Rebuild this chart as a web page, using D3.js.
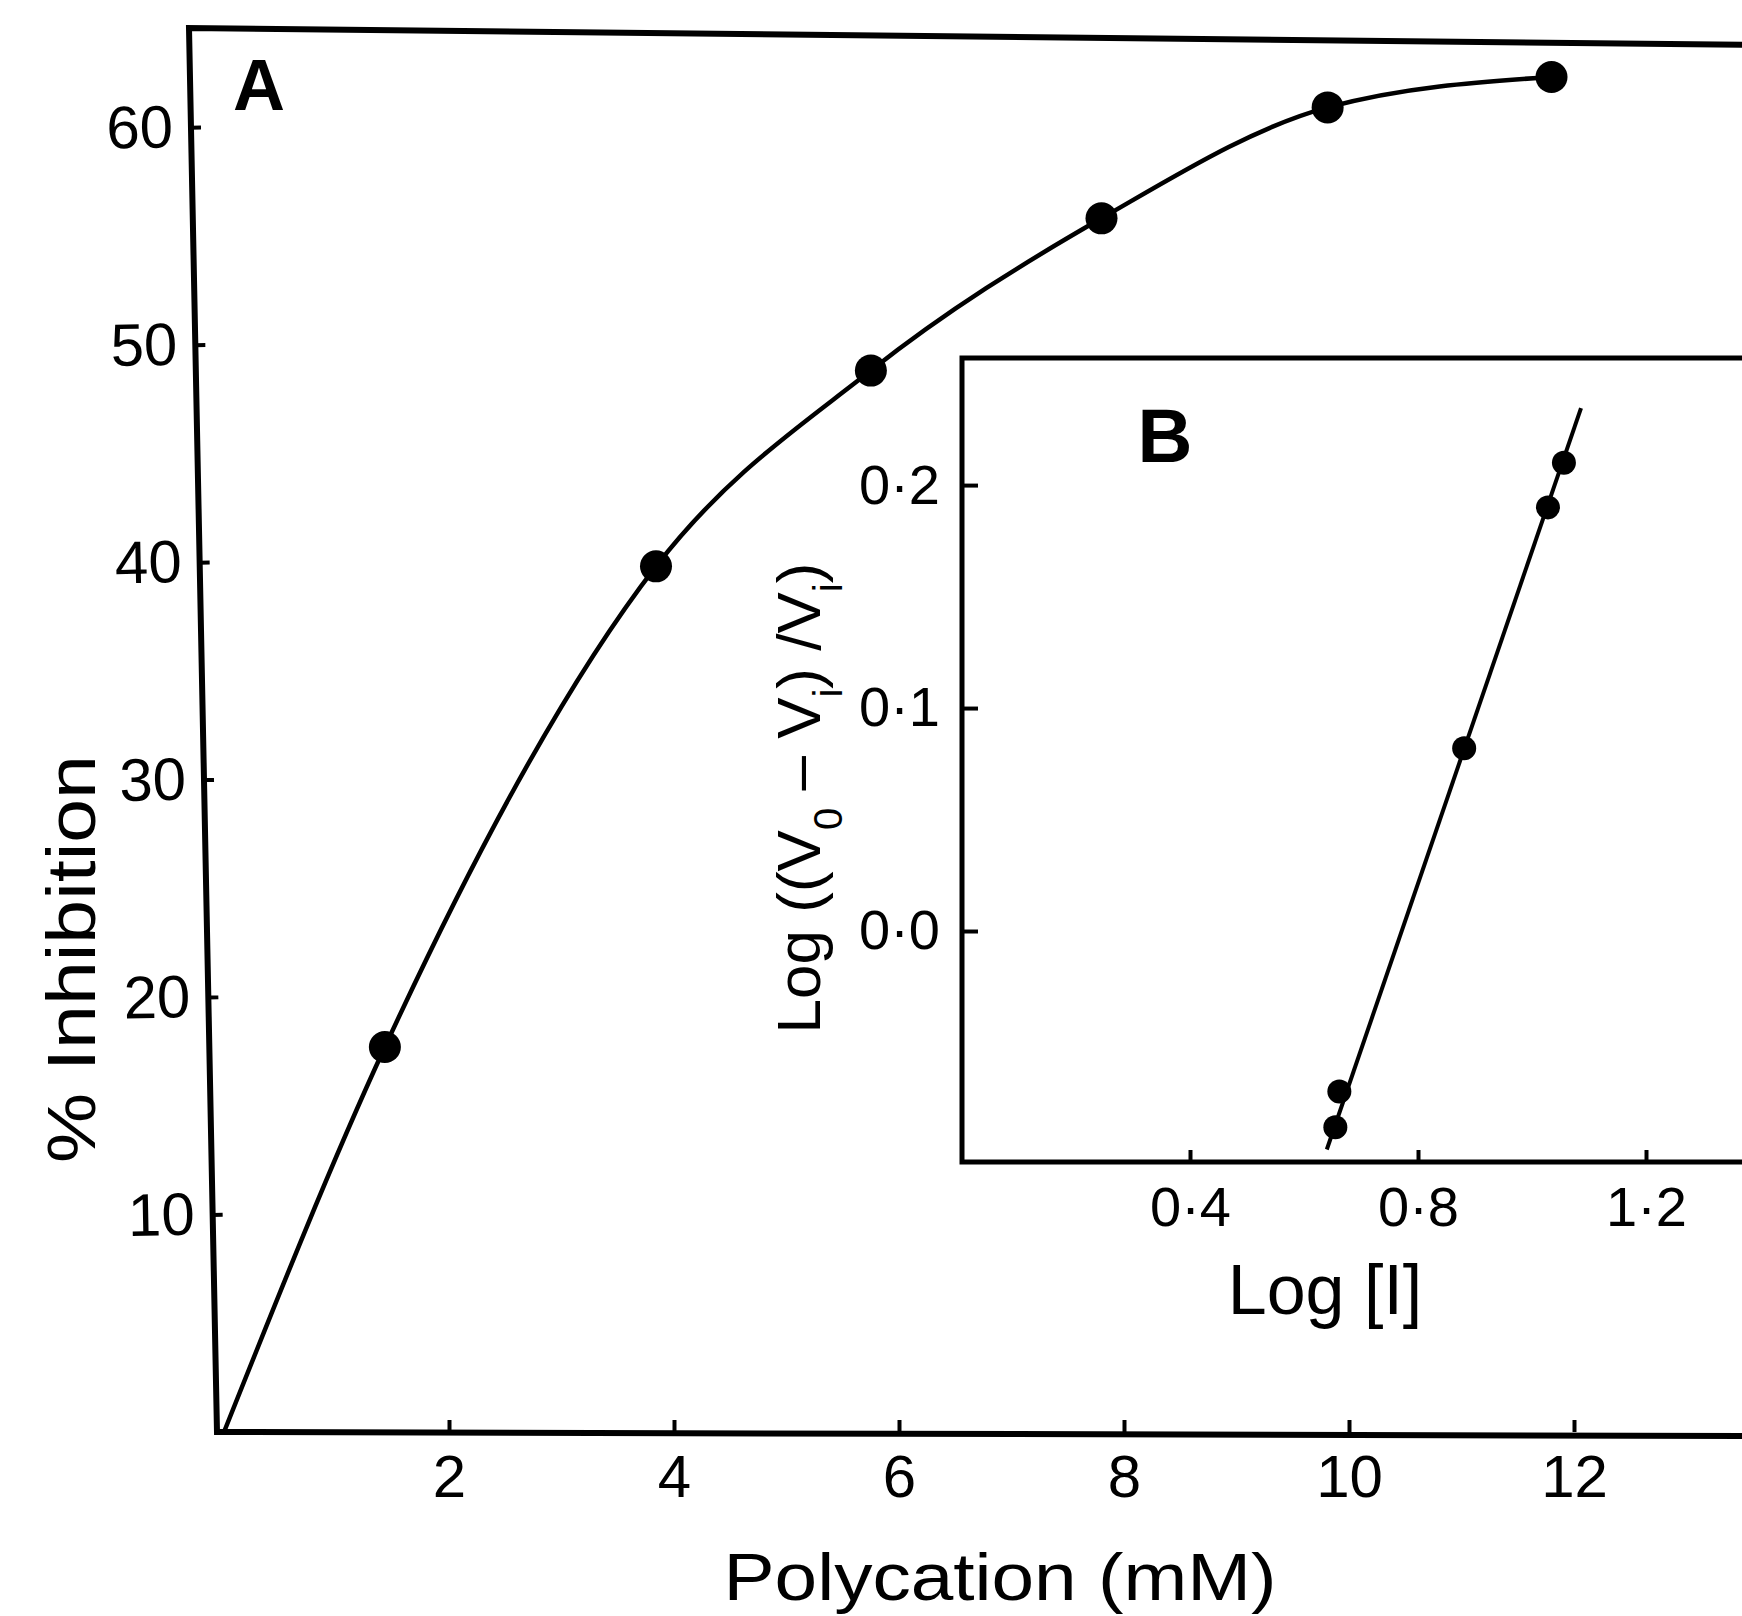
<!DOCTYPE html>
<html>
<head>
<meta charset="utf-8">
<script src="https://cdn.jsdelivr.net/npm/d3@7"></script>
<style>
body{margin:0;background:#fff}
svg{display:block}
</style>
</head>
<body>
<svg id="mainsvg" width="1742" height="1616"></svg>
<script>
// panel A : % inhibition against polycation concentration
const conc = [1.43, 3.84, 5.75, 7.80, 9.81, 11.80]
const inhibition = [17.7, 39.8, 48.8, 55.8, 60.9, 62.3]
const xTicksA = [2, 4, 6, 8, 10, 12]
const yTicksA = [10, 20, 30, 40, 50, 60]

// panel B (inset) : log plot with its fitted line
const logI = [0.655, 0.662, 0.881, 1.028, 1.056]
const logRatio = [-0.088, -0.072, 0.082, 0.190, 0.210]
const fitLogI = [0.640, 1.086]
const fitLogRatio = [-0.098, 0.2345]
const xTicksB = [0.4, 0.8, 1.2]
const yTicksB = [0.0, 0.1, 0.2]

const W = 1742
const tickFont = "'Liberation Sans', Arial, sans-serif"
const titleFont = "'Liberation Sans', Arial, sans-serif"
const svg = d3.select('#mainsvg')

// scales, main plot
let x = d3.scaleLinear().domain([0, 13.7]).range([224, 224 + 13.7 * 112.5])
let y = d3.scaleLinear().domain([0, 64.55]).range([1432, 28])

// the hand drawn frame leans a little
let leftBottom = [217, y(0)]
let leftTop = [189, y.range()[1]]
let tilt = Math.atan2(leftBottom[0] - leftTop[0], leftBottom[1] - leftTop[1]) * 180 / Math.PI

const g = svg.append('g').attr('id', 'panelA')

g.append('path')
    .attr('d', `M${W + 20},${leftTop[1] + 17} L${leftTop[0]},${leftTop[1]} L${leftBottom[0]},${leftBottom[1]} L${W + 20},${leftBottom[1] + 4}`)
    .attr('fill', 'none')
    .attr('stroke', 'black')
    .attr('stroke-width', 6)
    .attr('stroke-linejoin', 'miter')

let gy = g.append('g')
    .attr('transform', `rotate(${-tilt},${leftBottom[0]},${leftBottom[1]}) translate(${leftBottom[0]},0)`)
    .call(d3.axisLeft(y).tickValues(yTicksA).tickSize(-10).tickSizeOuter(0).tickPadding(18))
gy.select('.domain').remove()

let gx = g.append('g')
    .attr('transform', `translate(0,${y(0)})`)
    .call(d3.axisBottom(x).tickValues(xTicksA).tickSize(-12).tickSizeOuter(0).tickPadding(22))
gx.select('.domain').remove()

;[gx, gy].forEach(ax => {
    ax.selectAll('.tick line').attr('stroke', 'black').attr('stroke-width', 4)
    ax.selectAll('.tick text')
        .attr('fill', 'black')
        .style('font-family', tickFont)
        .style('font-size', '60px')
})

let curvePts = [[0, 0]].concat(conc.map((c, i) => [c, inhibition[i]]))
g.append('path')
    .datum(curvePts)
    .attr('d', d3.line().x(d => x(d[0])).y(d => y(d[1])).curve(d3.curveMonotoneX))
    .attr('fill', 'none')
    .attr('stroke', 'black')
    .attr('stroke-width', 4.5)

g.selectAll('.dotA')
    .data(conc)
    .enter().append('circle')
    .attr('class', 'dotA')
    .attr('cx', d => x(d))
    .attr('cy', (d, i) => y(inhibition[i]))
    .attr('r', 16)
    .attr('fill', 'black')

g.append('text')
    .attr('x', 259).attr('y', 110)
    .attr('text-anchor', 'middle')
    .style('font-family', titleFont).style('font-size', '72px').style('font-weight', 'bold')
    .text('A')

g.append('text')
    .attr('x', 1000).attr('y', 1600)
    .attr('text-anchor', 'middle')
    .attr('textLength', 553).attr('lengthAdjust', 'spacingAndGlyphs')
    .style('font-family', titleFont).style('font-size', '66px')
    .text('Polycation (mM)')

g.append('text')
    .attr('transform', 'translate(95,959) rotate(-90)')
    .attr('text-anchor', 'middle')
    .attr('textLength', 408).attr('lengthAdjust', 'spacingAndGlyphs')
    .style('font-family', titleFont).style('font-size', '68px')
    .text('% Inhibition')

// inset B
let xb = d3.scaleLinear().domain([0, 1.4]).range([962, 962 + 1.4 * 570])
let yb = d3.scaleLinear().domain([-0.1036, 0.257]).range([1162, 358])
let fmtB = d => d3.format('.1f')(d).replace('.', '·')

const gb = svg.append('g').attr('id', 'panelB')

gb.append('rect')
    .attr('x', xb(0)).attr('y', yb.range()[1])
    .attr('width', W + 40 - xb(0)).attr('height', yb.range()[0] - yb.range()[1])
    .attr('fill', 'white')
    .attr('stroke', 'black')
    .attr('stroke-width', 5)

let gyb = gb.append('g')
    .attr('transform', `translate(${xb(0)},0)`)
    .call(d3.axisLeft(yb).tickValues(yTicksB).tickFormat(fmtB).tickSize(-16).tickSizeOuter(0).tickPadding(22))
gyb.select('.domain').remove()

let gxb = gb.append('g')
    .attr('transform', `translate(0,${yb.range()[0]})`)
    .call(d3.axisBottom(xb).tickValues(xTicksB).tickFormat(fmtB).tickSize(-12).tickSizeOuter(0).tickPadding(24))
gxb.select('.domain').remove()

;[gxb, gyb].forEach(ax => {
    ax.selectAll('.tick line').attr('stroke', 'black').attr('stroke-width', 4)
    ax.selectAll('.tick text')
        .attr('fill', 'black')
        .style('font-family', tickFont)
        .style('font-size', '56px')
})

gb.append('path')
    .datum(fitLogI.map((v, i) => [v, fitLogRatio[i]]))
    .attr('d', d3.line().x(d => xb(d[0])).y(d => yb(d[1])))
    .attr('fill', 'none')
    .attr('stroke', 'black')
    .attr('stroke-width', 4)

gb.selectAll('.dotB')
    .data(logI)
    .enter().append('circle')
    .attr('class', 'dotB')
    .attr('cx', d => xb(d))
    .attr('cy', (d, i) => yb(logRatio[i]))
    .attr('r', 12)
    .attr('fill', 'black')

gb.append('text')
    .attr('x', 1165).attr('y', 462)
    .attr('text-anchor', 'middle')
    .style('font-family', titleFont).style('font-size', '76px').style('font-weight', 'bold')
    .text('B')

gb.append('text')
    .attr('x', 1325).attr('y', 1314)
    .attr('text-anchor', 'middle')
    .style('font-family', titleFont).style('font-size', '70px')
    .text('Log [I]')

let yLab = gb.append('text')
    .attr('transform', 'translate(820,798) rotate(-90)')
    .attr('text-anchor', 'middle')
    .style('font-family', titleFont).style('font-size', '62px')
yLab.append('tspan').text('Log ((V')
yLab.append('tspan').attr('baseline-shift', 'sub').style('font-size', '40px').text('0')
yLab.append('tspan').text(' – V')
yLab.append('tspan').attr('baseline-shift', 'sub').style('font-size', '40px').text('i')
yLab.append('tspan').text(') /V')
yLab.append('tspan').attr('baseline-shift', 'sub').style('font-size', '40px').text('i')
yLab.append('tspan').text(')')
</script>
</body>
</html>
